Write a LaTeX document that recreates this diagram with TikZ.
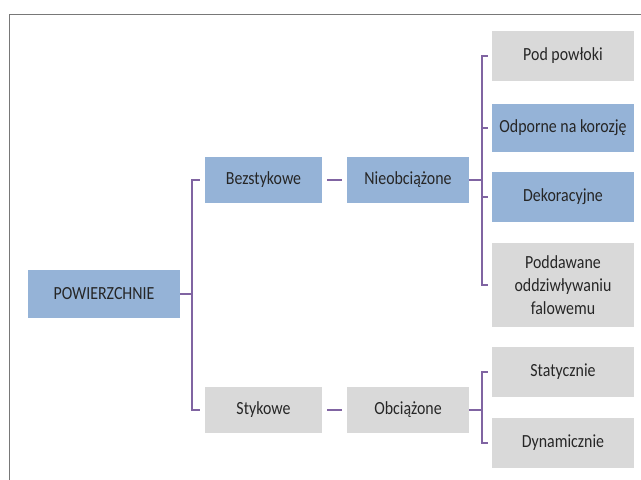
\documentclass[tikz,border=0pt]{standalone}
\usepackage{fontspec}
\setmainfont{Carlito}[FakeStretch=0.86]
\usepackage{tikz}
\usetikzlibrary{calc}
\definecolor{boxblue}{RGB}{149,179,215}
\definecolor{boxgrey}{RGB}{217,217,217}
\definecolor{linkpurple}{RGB}{128,100,162}
\definecolor{framegrey}{RGB}{120,120,120}

\begin{document}
\begin{tikzpicture}[x=1pt,y=-1pt,font=\fontsize{18.5}{23}\selectfont,
  bluebox/.style={fill=boxblue,text=black!85,align=center,inner sep=0pt},
  greybox/.style={fill=boxgrey,text=black!85,align=center,inner sep=0pt},
  link/.style={linkpurple,line width=1.6pt}]
\useasboundingbox (0,0) rectangle (641,480);
\draw[framegrey,line width=0.8pt] (9,480) -- (9,14) -- (641,14);
% level 0 and 1
\node[bluebox,minimum width=152pt,minimum height=48pt] (pow) at (104,294) {POWIERZCHNIE};
\node[bluebox,minimum width=117pt,minimum height=46pt] (bez) at (263.5,180) {Bezstykowe};
\node[greybox,minimum width=117pt,minimum height=46pt] (sty) at (263.5,410) {Stykowe};
% level 2
\node[bluebox,minimum width=122pt,minimum height=46pt] (nie) at (408,180) {Nieobciążone};
\node[greybox,minimum width=122pt,minimum height=46pt] (obc) at (408,410) {Obciążone};
% level 3
\node[greybox,minimum width=142pt,minimum height=50pt] (pod) at (563,56) {Pod powłoki};
\node[bluebox,minimum width=142pt,minimum height=48pt] (odp) at (563,128) {Odporne na korozję};
\node[bluebox,minimum width=142pt,minimum height=50pt] (dek) at (563,197) {Dekoracyjne};
\node[greybox,minimum width=142pt,minimum height=84pt] (pdw) at (563,285) {Poddawane\\oddziwływaniu\\falowemu};
\node[greybox,minimum width=142pt,minimum height=50pt] (sta) at (563,372) {Statycznie};
\node[greybox,minimum width=142pt,minimum height=50pt] (dyn) at (563,443) {Dynamicznie};
% connectors
\coordinate (busa) at ($(pow.east)+(12,0)$);
\coordinate (busb) at ($(nie.east)+(13,0)$);
\coordinate (busc) at ($(obc.east)+(13,0)$);
\draw[link] (pow.east) -- (busa);
\draw[link,shorten <=5pt,shorten >=5pt] (bez.west) -| (busa) |- (sty.west);
\draw[link,shorten <=5pt,shorten >=5pt] (bez) -- (nie);
\draw[link,shorten <=5pt,shorten >=5pt] (sty) -- (obc);
\draw[link] (nie.east) -- (busb);
\draw[link,shorten <=4pt,shorten >=4pt] (pod.west) -| (busb) |- (pdw.west);
\draw[link,shorten <=4pt] (odp.west) -- (odp.west -| busb);
\draw[link,shorten <=4pt] (dek.west) -- (dek.west -| busb);
\draw[link] (obc.east) -- (busc);
\draw[link,shorten <=4pt,shorten >=4pt] (sta.west) -| (busc) |- (dyn.west);
\end{tikzpicture}
\end{document}
